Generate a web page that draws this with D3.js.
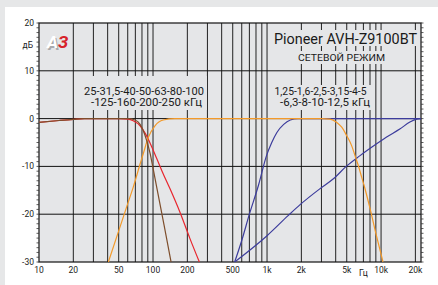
<!DOCTYPE html>
<html>
<head>
<meta charset="utf-8">
<script src="https://cdn.jsdelivr.net/npm/d3@7"></script>
<style>
  body { margin: 0; background: #fff; }
  text { font-family: Roboto, "Liberation Sans", sans-serif; fill: #1a1a1a; }
</style>
</head>
<body>
<div id="viz-container"></div>
<script>
// frequency response curves, [Hz, dB]
let redCurve = [[10,-0.8],[15,-0.4],[20,-0.15],[25,0],[40,0],[50,0],[60,-0.1],[67,-0.45],[77,-1.5],[86,-3.2],[95,-5.3],[108,-8.4],[120,-11],[141,-14.7],[173,-19.7],[210,-25],[255,-30]];
let brownCurve = [[10,-0.8],[15,-0.4],[20,-0.15],[25,0],[60,0],[69.5,-0.3],[77,-1.2],[82,-2.5],[88,-4.6],[94.5,-7.4],[99,-9.8],[108,-14.5],[125,-22.3],[144,-30]];
let orangeCurve = [[40.6,-30],[50,-23.5],[60,-17.8],[67,-14.4],[77,-9.5],[82,-7.4],[91,-3.9],[104,-1.5],[123,-0.3],[155,0],[1000,0],[3000,0],[3570,-0.1],[4090,-0.8],[4520,-1.8],[5000,-3.6],[5530,-5.7],[5920,-7.8],[6330,-9.9],[6770,-12.3],[7100,-14],[8000,-18.8],[9000,-24],[10400,-30]];
let blueSteep = [[520,-30],[600,-25.5],[700,-20],[840,-14],[991,-7.7],[1100,-5],[1220,-2.9],[1400,-1.2],[1600,-0.3],[1870,0],[5000,0],[22400,0]];
let blueSlope = [[520,-30],[1000,-24.5],[1530,-20.3],[1950,-18],[2900,-14.7],[3820,-12.6],[5000,-9.9],[6500,-7.8],[8500,-5.8],[11100,-3.9],[14600,-2.2],[17900,-0.7],[20500,-0.1],[22400,0]];

let gridFreqs = [20,30,40,50,60,70,80,90,100,200,300,400,500,600,700,800,900,1000,2000,3000,4000,5000,6000,7000,8000,9000,10000,20000];
let xTicks = [10,20,50,100,200,500,1000,2000,5000,10000,20000];
let xTickLabels = ["10","20","50","100","200","500","1k","2k","5k","10k","20k"];
let yTicks = [20,10,0,-10,-20,-30];
let gridDb = [10,0,-10,-20];

let viz = d3.select("#viz-container")
  .append("svg")
    .attr("width", 438)
    .attr("height", 285)
;

// page background
viz.append("rect").attr("width", 438).attr("height", 285).attr("fill", "#e6e7e8");
viz.append("rect").attr("x", 5).attr("y", 7).attr("width", 433).attr("height", 278).attr("fill", "#fff");

let x = d3.scaleLog().domain([10, 22400]).range([39, 421]);
let y = d3.scaleLinear().domain([-30, 20]).range([262, 23]);

viz.append("rect")
  .attr("x", x(10)).attr("y", y(20))
  .attr("width", x(22400) - x(10)).attr("height", y(-30) - y(20))
  .attr("fill", "#e5e6e8");

// grid
viz.selectAll(".vgrid").data(gridFreqs).enter()
  .append("line")
    .attr("class", "vgrid")
    .attr("x1", d => x(d)).attr("x2", d => x(d))
    .attr("y1", y(20)).attr("y2", y(-30))
    .attr("stroke", "#222")
    .attr("stroke-width", 1)
;
viz.selectAll(".hgrid").data(gridDb).enter()
  .append("line")
    .attr("class", "hgrid")
    .attr("x1", x(10)).attr("x2", x(22400))
    .attr("y1", d => y(d)).attr("y2", d => y(d))
    .attr("stroke", "#111")
    .attr("stroke-width", 1)
;

// boxes behind the notes
let boxes = [[84, 76, 123, 34], [272, 85, 101, 25], [272, 30, 147, 16], [296, 51, 91, 13]];
viz.selectAll(".box").data(boxes).enter()
  .append("rect")
    .attr("x", d => d[0]).attr("y", d => d[1])
    .attr("width", d => d[2]).attr("height", d => d[3])
    .attr("fill", "#e5e6e8")
;

// frame
viz.append("rect")
  .attr("x", x(10)).attr("y", y(20))
  .attr("width", x(22400) - x(10)).attr("height", y(-30) - y(20))
  .attr("fill", "none").attr("stroke", "#111").attr("stroke-width", 1.2);

let smallDb = d3.range(-30, 21, 1);
viz.selectAll(".ltick").data(smallDb).enter()
  .append("line")
    .attr("x1", x(10) - 2.5).attr("x2", x(10))
    .attr("y1", d => y(d)).attr("y2", d => y(d))
    .attr("stroke", "#333").attr("stroke-width", 0.8);
viz.selectAll(".rtick").data(smallDb).enter()
  .append("line")
    .attr("x1", x(22400)).attr("x2", x(22400) + 2.5)
    .attr("y1", d => y(d)).attr("y2", d => y(d))
    .attr("stroke", "#333").attr("stroke-width", 0.8);

// curves
viz.append("clipPath").attr("id", "plotclip")
  .append("rect")
    .attr("x", x(10)).attr("y", y(20))
    .attr("width", x(22400) - x(10)).attr("height", y(-30) - y(20));

let lineGen = d3.line()
  .x(d => x(d[0]))
  .y(d => y(d[1]))
  .curve(d3.curveMonotoneX);

let curves = [
  {pts: redCurve, color: "#e8262e"},
  {pts: blueSlope, color: "#3c3c9c"},
  {pts: blueSteep, color: "#3c3c9c"},
  {pts: orangeCurve, color: "#f39a2a"},
  {pts: brownCurve, color: "#7e4e2c"}
];
viz.append("g").attr("clip-path", "url(#plotclip)")
  .selectAll("path").data(curves).enter()
  .append("path")
    .attr("d", d => lineGen(d.pts))
    .attr("fill", "none")
    .attr("stroke", d => d.color)
    .attr("stroke-width", 1.2)
;

// axis labels
viz.selectAll(".ylab").data(yTicks).enter()
  .append("text")
    .attr("x", 34).attr("y", d => y(d) + 3)
    .attr("text-anchor", "end")
    .attr("font-size", 8.5)
    .text(d => d);
viz.append("text").attr("x", 33).attr("y", 48).attr("text-anchor", "end")
  .attr("font-size", 8.5).text("дБ");

viz.selectAll(".xlab").data(xTicks).enter()
  .append("text")
    .attr("x", d => x(d)).attr("y", 272.5)
    .attr("text-anchor", "middle")
    .attr("font-size", 8.5)
    .text((d, i) => xTickLabels[i]);
viz.append("text").attr("x", x(7000)).attr("y", 275.5).attr("text-anchor", "middle")
  .attr("font-size", 8.5).text("Гц");

// notes
function note(tx, ty, size, len, str){
  viz.append("text")
    .attr("x", tx).attr("y", ty)
    .attr("font-size", size)
    .attr("textLength", len)
    .attr("lengthAdjust", "spacingAndGlyphs")
    .text(str);
}
note(84, 95.3, 10, 120, "25-31,5-40-50-63-80-100");
note(91, 105.7, 10, 111, "-125-160-200-250 кГц");
note(274.5, 95.3, 10, 92, "1,25-1,6-2,5-3,15-4-5");
note(280, 105.7, 10, 90, "-6,3-8-10-12,5 кГц");
note(274, 43.5, 14.5, 143, "Pioneer AVH-Z9100BT");
note(298, 61, 9.5, 87, "СЕТЕВОЙ РЕЖИМ");

// logo
viz.append("text")
  .attr("x", 48.5).attr("y", 49.5)
  .attr("font-size", 17).attr("font-weight", "bold").attr("font-style", "italic")
  .style("fill", "#a9aaac")
  .text("А");
let logo = viz.append("text")
  .attr("x", 47).attr("y", 48)
  .attr("font-size", 17)
  .attr("font-weight", "bold")
  .attr("font-style", "italic");
logo.append("tspan").text("А").style("fill", "#fff");
logo.append("tspan").text("З").style("fill", "#d7232b");
</script>
</body>
</html>
